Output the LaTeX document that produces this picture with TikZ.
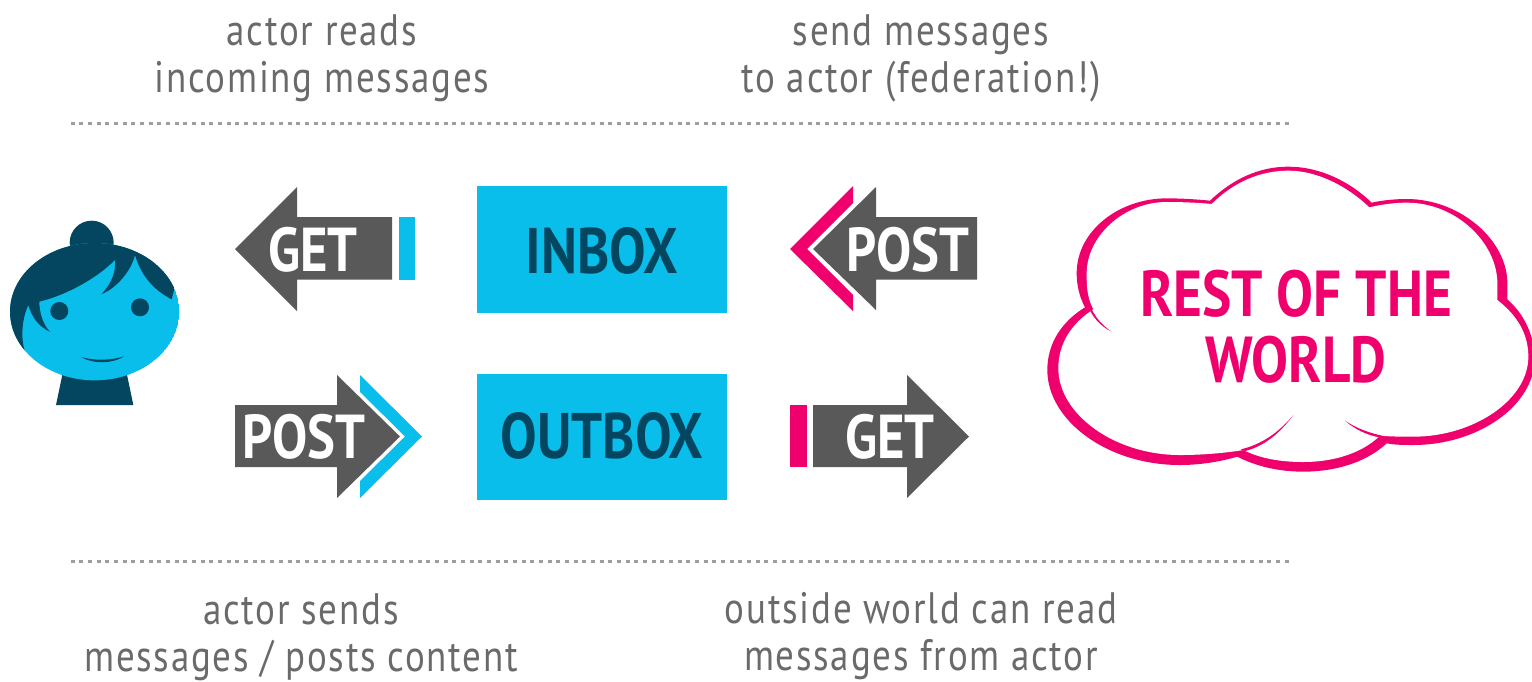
\documentclass[tikz,border=0pt]{standalone}
\usepackage{fontspec}
\setmainfont{PT Sans}
\newfontfamily\capfont[FakeStretch=0.85]{PT Sans Bold}
\newfontfamily\capsmall[FakeStretch=0.85]{PT Sans Bold}
\newfontfamily\capfontb[FakeStretch=0.84,LetterSpace=4]{PT Sans}
\definecolor{skyb}{HTML}{0ABEEC}
\definecolor{deepb}{HTML}{04465F}
\definecolor{hotp}{HTML}{EF006C}
\definecolor{arrowg}{HTML}{595959}
\definecolor{captg}{HTML}{6A6A6A}
\tikzset{
  caption/.style={align=center,text=captg,inner sep=0pt,font=\capfontb\fontsize{22}{23.5}\selectfont},
  box/.style={fill=skyb,draw=none},
  boxlabel/.style={text=deepb,inner sep=0pt,font=\capfont\fontsize{32.2}{34}\selectfont},
  arrowlabel/.style={text=white,inner sep=0pt,font=\capsmall\fontsize{31}{32}\selectfont},
  cloudlabel/.style={align=center,text=hotp,inner sep=0pt,font=\capfont\fontsize{32.5}{33}\selectfont},
  arrowbody/.style={fill=arrowg,draw=none},
  dotline/.style={draw=black!38,line width=1.9pt,dash pattern=on 2pt off 2.336pt}
}
\begin{document}
\begin{tikzpicture}[x=0.5pt,y=-0.5pt]
\useasboundingbox (0,0) rectangle (1532,681);
\clip (0,0) rectangle (1532,681);
% captions
\node[caption] (c1) at (322,58) {actor reads\\incoming messages};
\node[caption] (c2) at (921,58) {send messages\\to actor (federation!)};
\node[caption] (c3) at (301,637) {actor sends\\messages / posts content};
\node[caption] (c4) at (921,636) {outside world can read\\messages from actor};
% dotted rules
\coordinate (r1a) at (70.7,123.5); \coordinate (r1b) at (1288.7,123.5);
\coordinate (r2a) at (70.7,561.5); \coordinate (r2b) at (1288.7,561.5);
\draw[dotline] (r1a) -- (r1b);
\draw[dotline] (r2a) -- (r2b);
% boxes
\fill[box] (477,186) rectangle (727,313);
\fill[box] (477,374) rectangle (727,500);
\node[boxlabel] (inbox) at (602,251) {INBOX};
\node[boxlabel] (outbox) at (602,436) {OUTBOX};
% left arrows
\fill[arrowbody] (235,249) -- (297,187) -- (297,217) -- (392,217) -- (392,279.5) -- (297,279.5) -- (297,311) -- cycle;
\fill[skyb] (399,217) rectangle (415,279.5);
\node[arrowlabel] (get1) at (313,250) {GET};
\fill[arrowbody] (235,405) -- (337,405) -- (337,375) -- (400,436.5) -- (337,498) -- (337,467) -- (235,467) -- cycle;
\fill[skyb] (360,375) -- (422,436.5) -- (360,498) -- (360,481) -- (405,436.5) -- (360,392) -- cycle;
\node[arrowlabel] (post1) at (304,437) {POST};
% right arrows
\fill[arrowbody] (813,249) -- (876,187) -- (876,217) -- (977,217) -- (977,279.5) -- (876,279.5) -- (876,310) -- cycle;
\fill[hotp] (853,186) -- (790,249) -- (853,311) -- (853,295) -- (807,249) -- (853,203) -- cycle;
\node[arrowlabel] (post2) at (908,250) {POST};
\fill[arrowbody] (813,405) -- (907,405) -- (907,375) -- (969,436.5) -- (907,498) -- (907,467) -- (813,467) -- cycle;
\fill[hotp] (790,405) rectangle (807,467);
\node[arrowlabel] (get2) at (890,437) {GET};
% person
\begin{scope}[shift={(0,170)},x=0.16667pt,y=-0.16667pt]
  \fill[deepb] (190,600) -- (168,705) -- (400,705) -- (378,600) -- cycle;
  \fill[deepb] (275,218) circle[radius=66];
  \fill[deepb] (208,235) -- (342,235) -- (350,265) -- (200,265) -- cycle;
  \begin{scope}
    \clip (284,425) ellipse[x radius=254,y radius=206];
    \fill[skyb] (284,425) ellipse[x radius=254,y radius=206];
    \fill[deepb] (60,560) -- (0,400) -- (100,150) -- (450,150) -- (560,300) -- (524,352) -- (515,388)
      .. controls (470,365) and (425,325) .. (405,255)
      .. controls (395,300) and (350,355) .. (305,372)
      .. controls (335,340) and (348,305) .. (345,270)
      .. controls (290,325) and (200,375) .. (118,395)
      .. controls (118,430) and (130,465) .. (150,485)
      .. controls (115,470) and (95,440) .. (85,405)
      .. controls (68,440) and (60,500) .. (75,545) -- cycle;
  \end{scope}
  \fill[deepb] (178,423) circle[radius=27];
  \fill[deepb] (420,412) circle[radius=27];
  \fill[deepb] (243,561) .. controls (285,573) and (335,571) .. (372,559)
     .. controls (340,581) and (280,583) .. (243,561) -- cycle;
\end{scope}
% cloud
\begin{scope}[shift={(1030,150)},x=0.16667pt,y=-0.16667pt]
  \fill[hotp] (540,152) .. controls (610,85) and (690,50) .. (775,50)
    .. controls (870,50) and (960,95) .. (1025,158)
    .. controls (1060,150) and (1100,147) .. (1130,147)
    .. controls (1290,147) and (1432,270) .. (1432,400)
    .. controls (1432,420) and (1432,435) .. (1432,448)
    .. controls (1480,490) and (1510,550) .. (1515,620)
    .. controls (1515,770) and (1340,885) .. (1150,885)
    .. controls (1125,885) and (1095,885) .. (1070,880)
    .. controls (1000,945) and (900,965) .. (820,965)
    .. controls (750,965) and (680,950) .. (622,920)
    .. controls (570,935) and (510,945) .. (450,945)
    .. controls (230,945) and (52,810) .. (52,660)
    .. controls (52,580) and (95,515) .. (165,472)
    .. controls (148,440) and (140,405) .. (140,370)
    .. controls (140,240) and (270,145) .. (410,145)
    .. controls (455,145) and (500,148) .. (540,152) -- cycle;
  \fill[white] (545,162) .. controls (610,97) and (690,62) .. (775,62)
    .. controls (860,62) and (950,107) .. (1018,172)
    .. controls (1060,162) and (1100,158) .. (1130,158)
    .. controls (1280,158) and (1402,280) .. (1402,400)
    .. controls (1402,420) and (1402,435) .. (1402,450)
    .. controls (1460,495) and (1495,550) .. (1495,620)
    .. controls (1495,750) and (1330,860) .. (1150,860)
    .. controls (1120,860) and (1085,860) .. (1050,857)
    .. controls (990,915) and (900,936) .. (820,936)
    .. controls (750,936) and (690,925) .. (640,900)
    .. controls (580,910) and (510,915) .. (450,915)
    .. controls (250,915) and (85,790) .. (85,655)
    .. controls (85,580) and (125,520) .. (190,478)
    .. controls (170,440) and (170,405) .. (170,370)
    .. controls (170,260) and (280,156) .. (410,156)
    .. controls (455,156) and (505,158) .. (545,162) -- cycle;
  \fill[hotp] (790,795) .. controls (745,850) and (690,885) .. (632,898) -- (645,903)
    .. controls (700,890) and (750,850) .. (790,795) -- cycle;
  \fill[hotp] (945,812) .. controls (980,835) and (1015,848) .. (1060,858) -- (1048,862)
    .. controls (1010,855) and (975,838) .. (945,812) -- cycle;
  \fill[hotp] (182,472) .. controls (195,500) and (215,525) .. (245,545)
    .. controls (215,530) and (195,510) .. (178,478) -- cycle;
\end{scope}
\node[cloudlabel] (world) at (1296,327) {REST OF THE\\WORLD};
\end{tikzpicture}
\end{document}
